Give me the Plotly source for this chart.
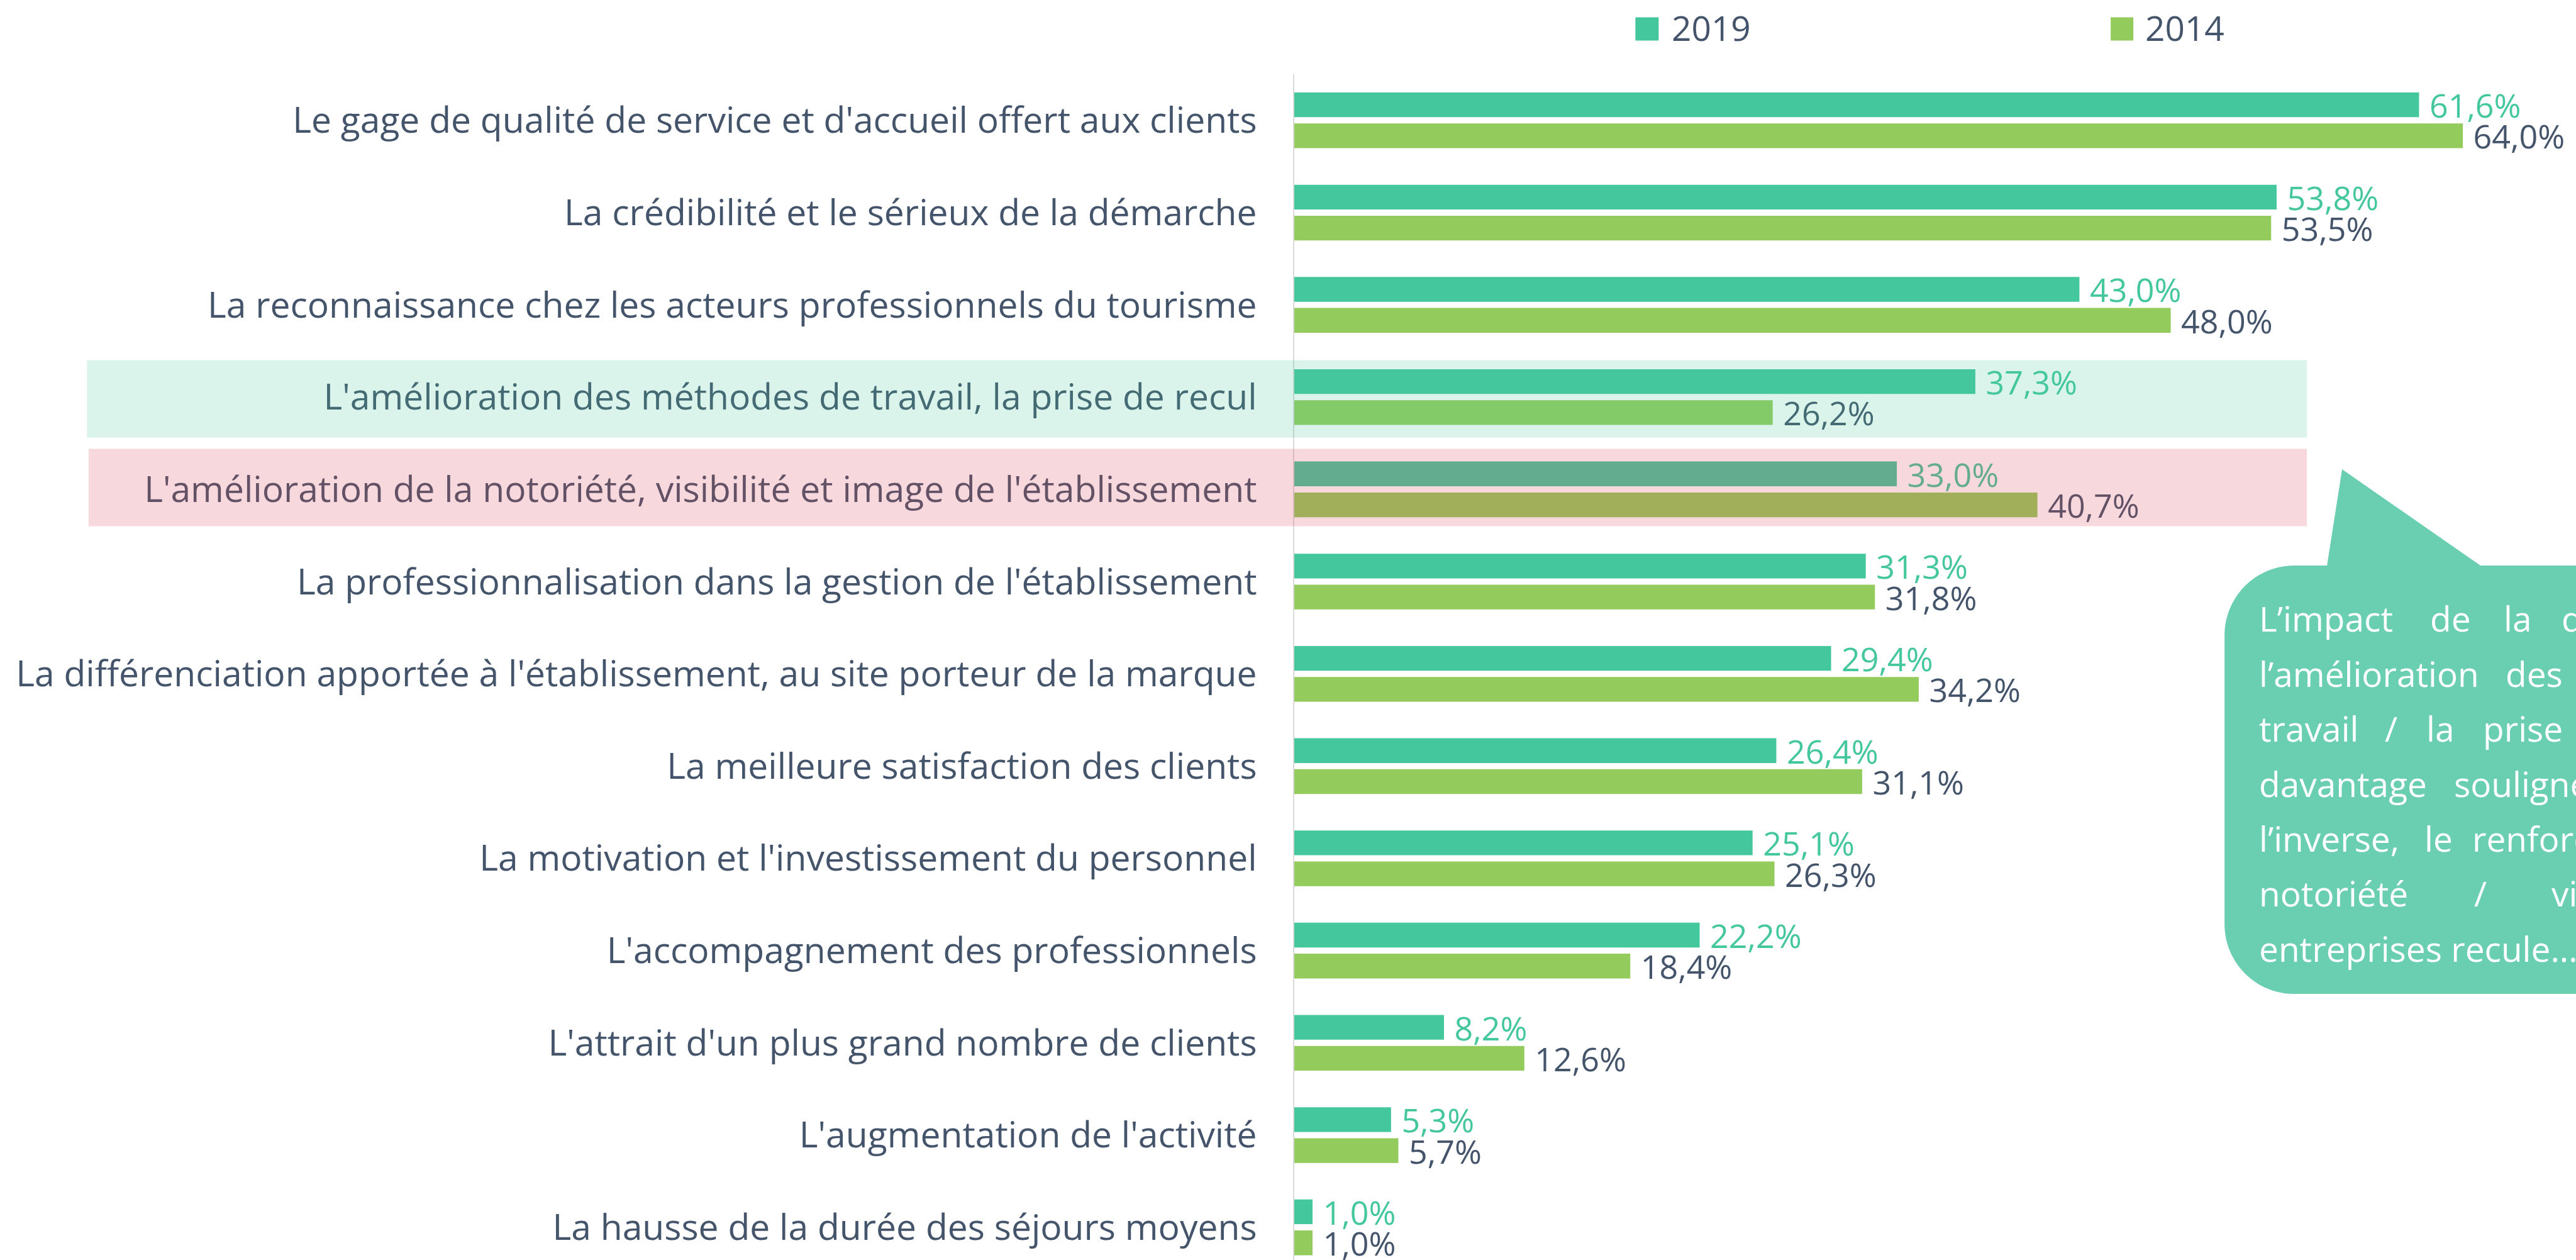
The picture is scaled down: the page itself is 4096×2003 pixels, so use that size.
import plotly.graph_objects as go

# ---------------------------------------------------------------- data
categories = [
    "Le gage de qualité de service et d'accueil offert aux clients",
    "La crédibilité et le sérieux de la démarche",
    "La reconnaissance chez les acteurs professionnels du tourisme",
    "L'amélioration des méthodes de travail, la prise de recul",
    "L'amélioration de la notoriété, visibilité et image de l'établissement",
    "La professionnalisation dans la gestion de l'établissement",
    "La différenciation apportée à l'établissement, au site porteur de la marque",
    "La meilleure satisfaction des clients",
    "La motivation et l'investissement du personnel",
    "L'accompagnement des professionnels",
    "L'attrait d'un plus grand nombre de clients",
    "L'augmentation de l'activité",
    "La hausse de la durée des séjours moyens",
]
values_2019 = [61.6, 53.8, 43.0, 37.3, 33.0, 31.3, 29.4, 26.4, 25.1, 22.2, 8.2, 5.3, 1.0]
values_2014 = [64.0, 53.5, 48.0, 26.2, 40.7, 31.8, 34.2, 31.1, 26.3, 18.4, 12.6, 5.7, 1.0]
series_names = ["2019", "2014"]

highlight_up = 3    # row emphasised in green
highlight_down = 4  # row emphasised in red

callout_words = [
    ["L’impact", "de", "la", "démarche"],
    ["l’amélioration", "des"],
    ["travail", "/", "la", "prise"],
    ["davantage", "souligné"],
    ["l’inverse,", "le", "renforcement"],
    ["notoriété", "/", "visibilité"],
    ["entreprises recule..."],
]

# ---------------------------------------------------------------- style
TEAL = "#45C79E"
GREEN = "#93CB5C"
SLATE = "#44546A"
BUBBLE = "#69CFB0"
FONT = "Open Sans"

FIG_W, FIG_H = 4096, 2003
M_L, M_T = 2057.5, 118
PLOT_W = FIG_W - M_L
PLOT_H = FIG_H - M_T


def px(x):
    """pixel x -> paper x"""
    return (x - M_L) / PLOT_W


def py(y):
    """pixel y (from top) -> paper y"""
    return 1 - (y - M_T) / PLOT_H


fig = go.Figure()
for name, vals, color, tcolor in [
    (series_names[0], values_2019, TEAL, TEAL),
    (series_names[1], values_2014, GREEN, SLATE),
]:
    fig.add_trace(go.Bar(
        name=name,
        y=categories,
        x=vals,
        orientation="h",
        marker=dict(color=color, line=dict(width=0)),
        texttemplate="\u00a0%{x:.1f}%",
        textposition="outside",
        outsidetextfont=dict(family=FONT, size=52, color=tcolor),
        constraintext="none",
        cliponaxis=False,
        showlegend=False,
        hoverinfo="skip",
    ))

shapes = []
# row highlight bands, drawn over the bars and labels
shapes.append(dict(
    type="rect", layer="above", xref="paper", yref="y",
    x0=px(137.4), x1=px(3668), y0=highlight_up - 0.40, y1=highlight_up + 0.44,
    fillcolor="rgba(69,199,158,0.2)", line=dict(width=0),
))
shapes.append(dict(
    type="rect", layer="above", xref="paper", yref="y",
    x0=px(140), x1=px(3668), y0=highlight_down - 0.44, y1=highlight_down + 0.40,
    fillcolor="rgba(217,69,88,0.21)", line=dict(width=0),
))

# legend squares
annotations = []
for (x0, x1, tx), name, color in zip(
    [(2600, 2637, 2656), (3356, 3392, 3409)], series_names, [TEAL, GREEN]
):
    shapes.append(dict(
        type="rect", xref="paper", yref="paper", layer="above",
        x0=px(x0), x1=px(x1), y0=py(64.4), y1=py(27.5),
        fillcolor=color, line=dict(width=0),
    ))
    annotations.append(dict(
        xref="paper", yref="paper", x=px(tx), y=py(44), xanchor="left",
        yanchor="middle", text=name, showarrow=False,
        font=dict(family=FONT, size=55, color=SLATE),
    ))

# speech bubble with pointer
X0, Y0, Y1, R, XR = 3537, 899, 1580, 111, 4300
k = 0.5523 * R
pts = [
    ("M", [(X0, Y0 + R)]),
    ("C", [(X0, Y0 + R - k), (X0 + R - k, Y0), (X0 + R, Y0)]),
    ("L", [(3700, Y0)]),
    ("L", [(3724, 746)]),
    ("L", [(3944, Y0)]),
    ("L", [(XR, Y0)]),
    ("L", [(XR, Y1)]),
    ("L", [(X0 + R, Y1)]),
    ("C", [(X0 + R - k, Y1), (X0, Y1 - R + k), (X0, Y1 - R)]),
]
path = ""
for cmd, plist in pts:
    path += cmd + " ".join(f"{px(a):.6f},{py(b):.6f}" for a, b in plist) + " "
path += "Z"
shapes.append(dict(type="path", path=path, xref="paper", yref="paper",
                   fillcolor=BUBBLE, line=dict(width=0), layer="above"))

# justified bubble text, one annotation per word
word_x = [
    [3590, 3862, 3979, 4071],
    [3590, 3982],
    [3590, 3790, 3856, 3946],
    [3590, 3900],
    [3590, 3853, 3929],
    [3590, 3932, 4055],
    [3590],
]
baseline0, line_step = 1004.1, 87.4
for i, (words, xs) in enumerate(zip(callout_words, word_x)):
    yb = baseline0 + i * line_step
    for w, x in zip(words, xs):
        annotations.append(dict(
            xref="paper", yref="paper", x=px(x), y=py(yb - 21.3),
            xanchor="left", yanchor="middle", text=w, showarrow=False,
            font=dict(family=FONT, size=55, color="white"),
        ))

fig.update_layout(
    width=FIG_W, height=FIG_H,
    margin=dict(l=M_L, r=0, t=M_T, b=0, pad=0, autoexpand=False),
    paper_bgcolor="white", plot_bgcolor="white",
    barmode="group", bargap=0.328, bargroupgap=0.202,
    separators=", ",
    showlegend=False,
    shapes=shapes,
    annotations=annotations,
    xaxis=dict(range=[0, PLOT_W / 29.04], visible=False, fixedrange=True),
    yaxis=dict(
        type="category", categoryorder="array", categoryarray=categories,
        range=[12.354, -0.5],
        showgrid=False, zeroline=False,
        showline=True, linecolor="#D9D9D9", linewidth=2,
        ticks="", ticklabelstandoff=46, automargin=False,
        tickfont=dict(family=FONT, size=57, color=SLATE),
        fixedrange=True,
    ),
)

fig.write_html("out.html")
